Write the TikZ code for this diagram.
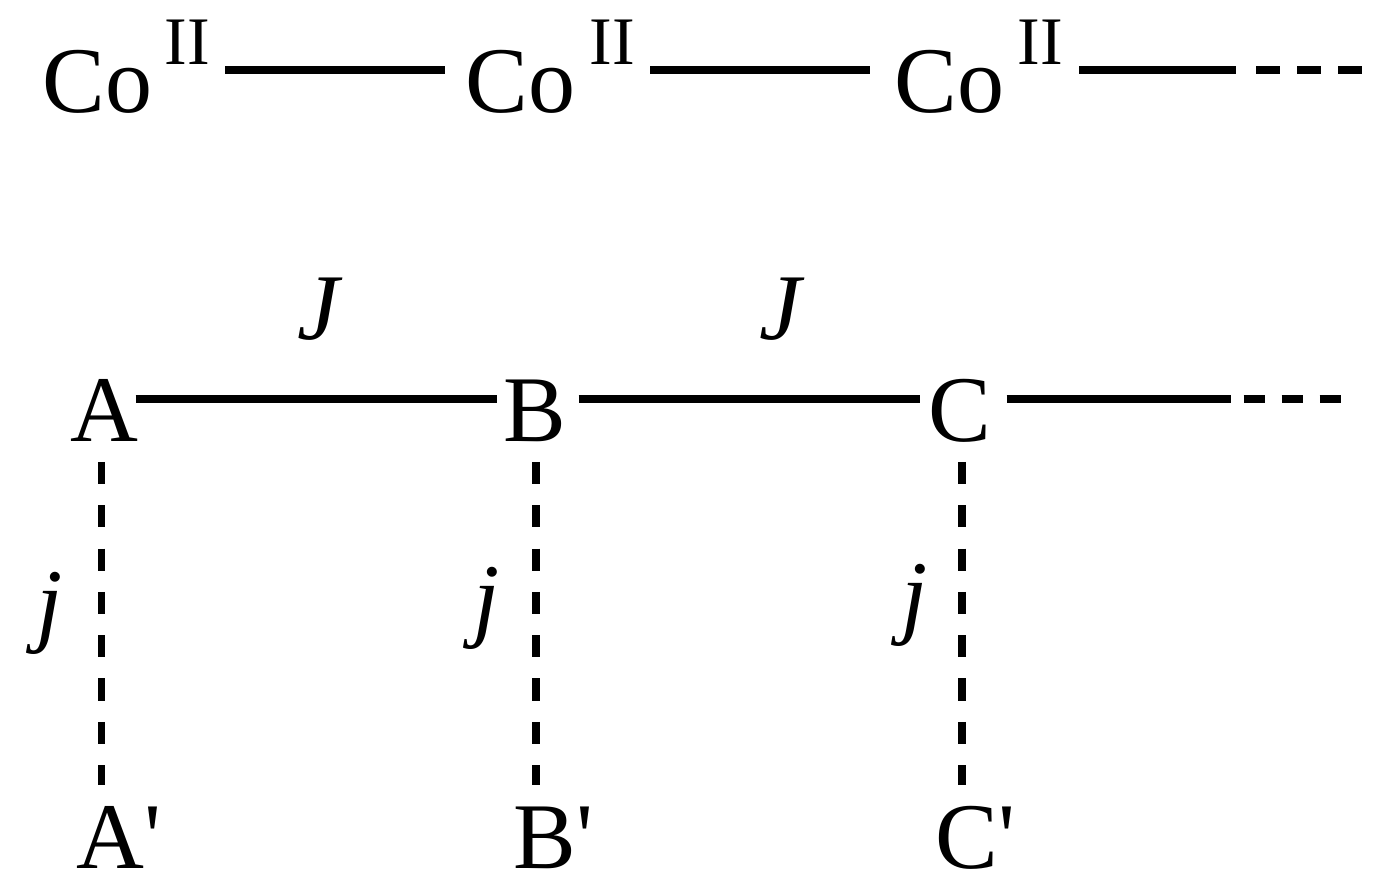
\documentclass[tikz,border=0pt]{standalone}
\usepackage{fontspec}
\setmainfont{Liberation Serif}
\usetikzlibrary{calc}
\begin{document}
\begin{tikzpicture}[x=0.5pt,y=-0.5pt,
  lbl/.style={inner sep=0pt, anchor=base west, font=\fontsize{47}{56}\selectfont},
  suplbl/.style={inner sep=0pt, anchor=base west, font=\fontsize{34}{40}\selectfont},
  itlbl/.style={inner sep=0pt, anchor=base west, font=\fontsize{47}{56}\selectfont\itshape},
  bond/.style={line width=4pt},
  tail/.style={line width=4pt, dash pattern=on 12pt off 8.5pt},
  tailb/.style={line width=4pt, dash pattern=on 10.5pt off 8.5pt},
  jlink/.style={line width=3.8pt, dash pattern=on 11pt off 10.65pt}]
\useasboundingbox (0,0) rectangle (1387,892);
% top row
\node[lbl] (co1) at (42,113) {Co};
\node[suplbl] (s1) at (164,65) {II};
\node[lbl] (co2) at (465,113) {Co};
\node[suplbl] (s2) at (589,65) {II};
\node[lbl] (co3) at (894,113) {Co};
\node[suplbl] (s3) at (1017,65) {II};
\draw[bond] ($(s1.base east)+(15,5)$) -- ($(co2.base west)+(-20,-43)$);
\draw[bond] ($(s2.base east)+(15,5)$) -- ($(co3.base west)+(-24,-43)$);
\draw[bond] ($(s3.base east)+(16,5)$) coordinate (t1) -- ++(157,0) coordinate (t2);
\draw[tail] ($(t2)+(20,0)$) coordinate (t3) -- ++(107,0) coordinate (t4);
% bottom row
\node[lbl] (A) at (70,442) {A};
\node[lbl] (B) at (503,442) {B};
\node[lbl] (C) at (928,442) {C};
\node[itlbl] (J1) at (297,340) {J};
\node[itlbl] (J2) at (759,340) {J};
\draw[bond] ($(A.base east)+(-3,-43)$) -- ($(B.base west)+(-6,-43)$);
\draw[bond] ($(B.base east)+(12,-43)$) -- ($(C.base west)+(-8,-43)$);
\draw[bond] ($(C.base east)+(15,-43)$) coordinate (u1) -- ($(u1)+(224,0)$) coordinate (u2);
\draw[tailb] ($(u2)+(13,0)$) coordinate (u3) -- ++(97,0) coordinate (u4);
% primed sites
\node[lbl] (Ap) at (76,868) {A\textquotesingle};
\node[lbl] (Bp) at (513,868) {B\textquotesingle};
\node[lbl] (Cp) at (935,868) {C\textquotesingle};
\draw[jlink] ($(A.base)+(-3,20)$) -- ($(A.base |- Ap.base)+(-3,-83)$);
\draw[jlink] ($(B.base)+(1.5,20)$) -- ($(B.base |- Bp.base)+(1.5,-83)$);
\draw[jlink] ($(C.base)+(2.5,20)$) -- ($(C.base |- Cp.base)+(2.5,-83)$);
\node[itlbl] (j1) at (36,635) {j};
\node[itlbl] (j2) at (473,630) {j};
\node[itlbl] (j3) at (901,627) {j};
\end{tikzpicture}
\end{document}
